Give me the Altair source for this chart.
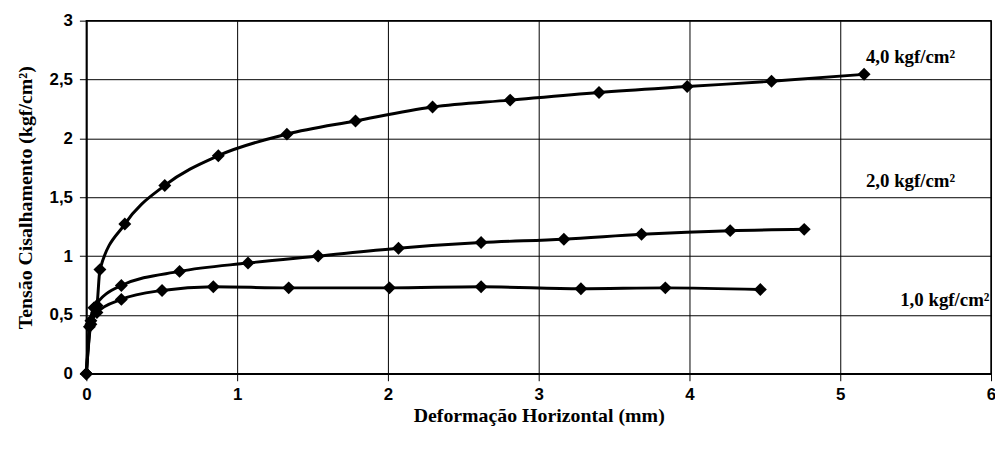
import altair as alt
import pandas as pd

# Series: normal stress 4,0 kgf/cm2
x4 = [0.0, 0.03, 0.07, 0.09, 0.255, 0.52, 0.875, 1.33, 1.785, 2.296, 2.811, 3.40, 3.985, 4.544, 5.158]
y4 = [0.0, 0.45, 0.58, 0.885, 1.272, 1.60, 1.853, 2.036, 2.148, 2.266, 2.325, 2.39, 2.44, 2.485, 2.544]
# Series: 2,0 kgf/cm2
x2 = [0.0, 0.02, 0.05, 0.232, 0.618, 1.072, 1.537, 2.07, 2.618, 3.167, 3.682, 4.27, 4.761]
y2 = [0.0, 0.40, 0.56, 0.75, 0.87, 0.941, 1.0, 1.067, 1.115, 1.143, 1.185, 1.216, 1.227]
# Series: 1,0 kgf/cm2
x1 = [0.0, 0.03, 0.07, 0.232, 0.502, 0.842, 1.342, 2.01, 2.618, 3.28, 3.84, 4.47]
y1 = [0.0, 0.42, 0.52, 0.632, 0.708, 0.739, 0.730, 0.730, 0.739, 0.722, 0.730, 0.716]

series_names = ["4,0 kgf/cm²", "2,0 kgf/cm²", "1,0 kgf/cm²"]
label_x = [5.17, 5.17, 5.99]
label_y = [2.69, 1.64, 0.63]
label_align = ["left", "left", "right"]

rows = []
for name, xs, ys in zip(series_names, [x4, x2, x1], [y4, y2, y1]):
    for i, (a, b) in enumerate(zip(xs, ys)):
        rows.append({"serie": name, "x": a, "y": b, "order": i})
df = pd.DataFrame(rows)
lab = pd.DataFrame({"serie": series_names, "x": label_x, "y": label_y, "align": label_align})

xscale = alt.Scale(domain=[0, 6], nice=False, zero=True)
yscale = alt.Scale(domain=[0, 3], nice=False)

comma = "replace(format(datum.value, '~g'), '.', ',')"

xaxis = alt.Axis(
    title="Deformação Horizontal (mm)", values=[0, 1, 2, 3, 4, 5, 6], labelExpr=comma,
    grid=True, gridColor="black", gridWidth=1, gridOpacity=1,
    domainColor="black", domainWidth=1.5, tickColor="black", tickSize=7,
    labelFont="Liberation Sans", labelFontWeight="bold", labelFontSize=17, labelColor="black",
    labelPadding=6, titleFont="Liberation Serif", titleFontWeight="bold", titleFontSize=20,
    titleColor="black", titlePadding=3, labelFlush=False,
)
yaxis = alt.Axis(
    title="Tensão Cisalhamento (kgf/cm²)", values=[0, 0.5, 1, 1.5, 2, 2.5, 3],
    labelExpr=comma,
    grid=True, gridColor="black", gridWidth=1, gridOpacity=1,
    domainColor="black", domainWidth=1.5, tickColor="black", tickSize=7,
    labelFont="Liberation Sans", labelFontWeight="bold", labelFontSize=17, labelColor="black",
    labelPadding=7, titleFont="Liberation Serif", titleFontWeight="bold", titleFontSize=20,
    titleColor="black", titlePadding=14, labelFlush=False,
)

base = alt.Chart(df).encode(
    x=alt.X("x:Q", scale=xscale, axis=xaxis),
    y=alt.Y("y:Q", scale=yscale, axis=yaxis),
    detail="serie:N",
    order="order:Q",
)
lines = base.mark_line(color="black", strokeWidth=3, interpolate="monotone")
pts = base.mark_point(shape="diamond", filled=True, color="black", size=170, opacity=1)

labels_left = alt.Chart(lab[lab["align"] == "left"]).mark_text(
    align="left", baseline="middle", font="Liberation Serif", fontWeight="bold",
    fontSize=19, color="black"
).encode(x=alt.X("x:Q", scale=xscale), y=alt.Y("y:Q", scale=yscale), text="serie:N")
labels_right = alt.Chart(lab[lab["align"] == "right"]).mark_text(
    align="right", baseline="middle", font="Liberation Serif", fontWeight="bold",
    fontSize=19, color="black"
).encode(x=alt.X("x:Q", scale=xscale), y=alt.Y("y:Q", scale=yscale), text="serie:N")

chart = alt.layer(lines, pts, labels_left, labels_right).properties(
    width=912, height=356,
    autosize=alt.AutoSizeParams(type="none"),
    padding={"left": 79, "top": 11, "right": 4, "bottom": 67},
    background="white",
).configure_view(stroke="black", strokeWidth=1.5)

chart.save("out.html", embed_options={"renderer": "svg", "actions": False})
